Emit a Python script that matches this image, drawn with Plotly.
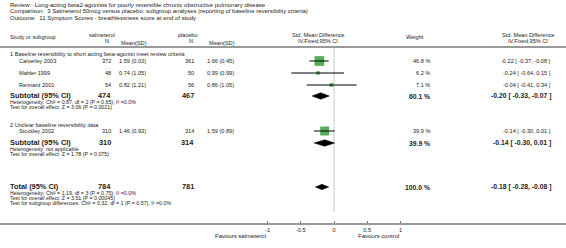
import plotly.graph_objects as go

# ---------------- data ----------------
review = "Review:  Long-acting beta2-agonists for poorly reversible chronic obstructive pulmonary disease"
comparison = "Comparison:  3 Salmeterol 50mcg versus placebo: subgroup analyses (reporting of baseline reversibility criteria)"
outcome = "Outcome:  11 Symptom Scores - breathlessness score at end of study"

subgroups = ["1 Baseline reversibility to short acting beta-agonist meet review criteria",
             "2 Unclear baseline reversibility data"]
studies = ["Calverley 2003", "Mahler 1999", "Rennard 2001", "Stockley 2002"]
salm_n = [372, 48, 54, 310]
salm_mean = [1.59, 0.74, 0.82, 1.46]
salm_sd = [0.03, 1.05, 1.21, 0.93]
plac_n = [361, 50, 56, 314]
plac_mean = [1.66, 0.99, 0.86, 1.59]
plac_sd = [0.45, 0.99, 1.05, 0.89]
weights = [46.8, 6.2, 7.1, 39.9]
smd = [-0.22, -0.24, -0.04, -0.14]
smd_lo = [-0.37, -0.64, -0.41, -0.30]
smd_hi = [-0.08, 0.15, 0.34, 0.01]

sub_salm_n = [474, 310]
sub_plac_n = [467, 314]
sub_weight = [60.1, 39.9]
sub_smd = [-0.20, -0.14]
sub_lo = [-0.33, -0.30]
sub_hi = [-0.07, 0.01]
sub_het = ["Heterogeneity: Chi² = 0.87, df = 2 (P = 0.65); I² =0.0%",
           "Heterogeneity: not applicable"]
sub_test = ["Test for overall effect: Z = 3.06 (P = 0.0021)",
            "Test for overall effect: Z = 1.78 (P = 0.075)"]

tot_salm_n = 784
tot_plac_n = 781
tot_weight = 100.0
tot_smd = -0.18
tot_lo = -0.28
tot_hi = -0.08
tot_notes = ["Heterogeneity: Chi² = 1.19, df = 3 (P = 0.75); I² =0.0%",
             "Test for overall effect: Z = 3.51 (P = 0.00045)",
             "Test for subgroup differences: Chi² = 0.32, df = 1 (P = 0.57), I² =0.0%"]

tick_vals = [-1, -0.5, 0, 0.5, 1]
tick_text = ["-1", "-0.5", "0", "0.5", "1"]
favours_left = "Favours salmeterol"
favours_right = "Favours control"

# ---------------- layout constants ----------------
W, H = 566, 248
X0_PX = 334.0      # pixel x of SMD = 0
UNIT_PX = 66.5     # pixels per SMD unit
FONT = "Liberation Sans, Arial, sans-serif"
TXT = "#222222"

study_y = [61, 73, 85, 131]
sub_head_y = [54, 125]
sub_y = [96, 143]
tot_y = 187

# column right edges (pixels)
C_SN, C_SM, C_PN, C_PM, C_W, C_CI = 113, 148, 196, 236, 432, 553

fig = go.Figure()
ann = []


def px(x):
    return x / W


def text(x, y, s, size=5.6, anchor="left", bold=False, color=TXT):
    if bold:
        s = "<b>" + s + "</b>"
    ann.append(dict(x=px(x), y=y, xref="paper", yref="y", text=s, showarrow=False,
                    xanchor=anchor, yanchor="middle",
                    font=dict(size=size, family=FONT, color=color)))


def fmt_ci(e, lo, hi):
    return f"{e:.2f} [ {lo:.2f}, {hi:.2f} ]"


# header text
text(8, 4.5, review, 6)
text(8, 11, comparison, 6)
text(8, 17.5, outcome, 6)

text(8, 37, "Study or subgroup")
text(102, 35, "salmeterol", anchor="center")
text(107, 41, "N", anchor="center")
text(134, 42.5, "Mean(SD)", anchor="center")
text(188, 35, "placebo", anchor="center")
text(191, 41, "N", anchor="center")
text(222, 42.5, "Mean(SD)", anchor="center")
text(318, 35, "Std. Mean Difference", anchor="center")
text(318, 41, "IV,Fixed,95% CI", anchor="center")
text(415, 37, "Weight", anchor="center")
text(528, 35, "Std. Mean Difference", anchor="center")
text(528, 41, "IV,Fixed,95% CI", anchor="center")

# study rows
for i, s in enumerate(studies):
    y = study_y[i]
    text(17, y, s)
    text(C_SN, y, str(salm_n[i]), anchor="right")
    text(C_SM, y, f"{salm_mean[i]:.2f} ({salm_sd[i]:.2f})", anchor="right")
    text(C_PN, y, str(plac_n[i]), anchor="right")
    text(C_PM, y, f"{plac_mean[i]:.2f} ({plac_sd[i]:.2f})", anchor="right")
    text(C_W, y, f"{weights[i]:.1f} %", anchor="right")
    text(C_CI, y, fmt_ci(smd[i], smd_lo[i], smd_hi[i]), anchor="right")

for g in range(2):
    text(8, sub_head_y[g], subgroups[g])
    y = sub_y[g]
    text(8, y - 0.5, "Subtotal (95% CI)", 7.4, bold=True)
    text(C_SN, y - 0.5, str(sub_salm_n[g]), 7.4, anchor="right", bold=True)
    text(C_PN, y - 0.5, str(sub_plac_n[g]), 7.4, anchor="right", bold=True)
    text(C_W, y, f"{sub_weight[g]:.1f} %", 6.8, anchor="right", bold=True)
    text(C_CI, y, fmt_ci(sub_smd[g], sub_lo[g], sub_hi[g]), 6.8, anchor="right", bold=True)
    text(8, y + 5.8, sub_het[g], 5.3)
    text(8, y + 11, sub_test[g], 5.3)

text(8, tot_y - 0.5, "Total (95% CI)", 7.4, bold=True)
text(C_SN, tot_y - 0.5, str(tot_salm_n), 7.4, anchor="right", bold=True)
text(C_PN, tot_y - 0.5, str(tot_plac_n), 7.4, anchor="right", bold=True)
text(C_W, tot_y, f"{tot_weight:.1f} %", 6.8, anchor="right", bold=True)
text(C_CI, tot_y, fmt_ci(tot_smd, tot_lo, tot_hi), 6.8, anchor="right", bold=True)
for k, note in enumerate(tot_notes):
    text(8, tot_y + 5.6 + 5.2 * k, note, 5.3)

text(240, 236, favours_left, 6, anchor="center")
text(378, 236, favours_right, 6, anchor="center")

# ---------------- forest marks ----------------
fig.add_shape(type="line", xref="x", yref="y", x0=0, x1=0, y0=48, y1=212,
              line=dict(color="#c8c8c8", width=1), layer="below")
fig.add_shape(type="line", xref="paper", yref="y", x0=0, x1=1, y0=47, y1=47,
              line=dict(color="#999999", width=2))

sizes = [max(3.5, 1.42 * (w ** 0.5)) for w in weights]
fig.add_trace(go.Scatter(x=smd, y=study_y, mode="markers",
                         marker=dict(symbol="square", size=sizes, color="#118a11",
                                     line=dict(width=0)),
                         hoverinfo="skip", showlegend=False))
for i in range(len(studies)):
    fig.add_trace(go.Scatter(x=[smd_lo[i], smd_hi[i]], y=[study_y[i], study_y[i]],
                             mode="lines", line=dict(color="black", width=1),
                             hoverinfo="skip", showlegend=False))


def diamond(e, lo, hi, y, h):
    fig.add_trace(go.Scatter(x=[lo, e, hi, e, lo], y=[y, y - h, y, y + h, y],
                             mode="lines", fill="toself", fillcolor="black",
                             line=dict(color="black", width=0.5),
                             hoverinfo="skip", showlegend=False))


for g in range(2):
    diamond(sub_smd[g], sub_lo[g], sub_hi[g], sub_y[g], 3.2)
diamond(tot_smd, tot_lo, tot_hi, tot_y, 2.7)

x_lo = -X0_PX / UNIT_PX
x_hi = (W - X0_PX) / UNIT_PX
axis_px_y = 224

fig.update_layout(
    width=W, height=H, margin=dict(l=0, r=0, t=0, b=0),
    paper_bgcolor="white", plot_bgcolor="white",
    annotations=ann,
    xaxis=dict(range=[x_lo, x_hi], domain=[0, 1], anchor="free",
               position=(H - axis_px_y) / H,
               showgrid=False, zeroline=False, showline=True,
               linecolor="#999999", linewidth=2,
               tickvals=tick_vals, ticktext=tick_text, ticks="inside",
               ticklen=2, tickcolor="#777777", tickwidth=1,
               tickfont=dict(size=5.6, family=FONT, color=TXT)),
    yaxis=dict(range=[H, 0], domain=[0, 1], visible=False, showgrid=False,
               zeroline=False),
)

fig.write_html("out.html", config={"displayModeBar": False, "staticPlot": True},
               post_script="document.body.style.margin='0';document.body.style.overflow='hidden';")
